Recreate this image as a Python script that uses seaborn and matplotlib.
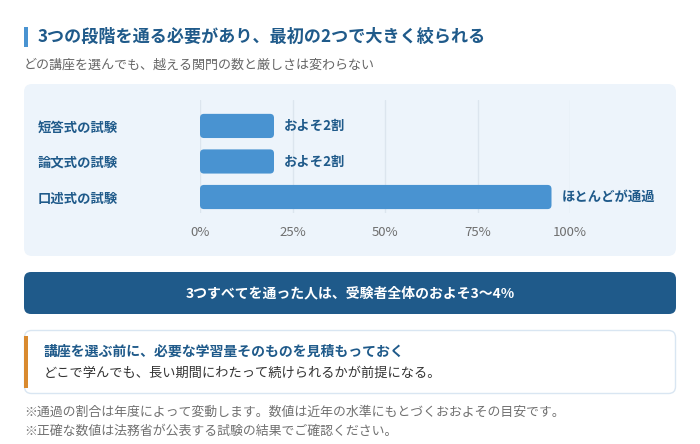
import matplotlib
matplotlib.use("Agg")
import matplotlib.pyplot as plt
import seaborn as sns
import pandas as pd
from matplotlib.patches import FancyBboxPatch, Rectangle

# Data
categories = ["短答式の試験", "論文式の試験", "口述式の試験"]
pass_rates = [20, 20, 95]
value_labels = ["およそ2割", "およそ2割", "ほとんどが通過"]
x_ticks = [0, 25, 50, 75, 100]
tick_labels = ["0%", "25%", "50%", "75%", "100%"]

title = "3つの段階を通る必要があり、最初の2つで大きく絞られる"
subtitle = "どの講座を選んでも、越える関門の数と厳しさは変わらない"
banner = "3つすべてを通った人は、受験者全体のおよそ3〜4%"
note_head = "講座を選ぶ前に、必要な学習量そのものを見積もっておく"
note_body = "どこで学んでも、長い期間にわたって続けられるかが前提になる。"
footnotes = ["※通過の割合は年度によって変動します。数値は近年の水準にもとづくおおよその目安です。",
             "※正確な数値は法務省が公表する試験の結果でご確認ください。"]

df = pd.DataFrame({"試験": categories, "通過率": pass_rates})

sns.set_theme(style="white")
plt.rcParams['font.family'] = ['Noto Sans CJK JP', 'DejaVu Sans']

NAVY = "#1f5a8a"
BAR = "#4993d1"
PANEL = "#edf4fb"
GRAY = "#6f6f6f"

W, H = 700, 444
fig = plt.figure(figsize=(7, 4.44), dpi=100)
fig.patch.set_facecolor("white")


def fy(y):
    # pixel from top -> display y
    return H - y


def box(x0, y0, x1, y1, color, r=7, ec="none", lw=0):
    p = FancyBboxPatch((x0, fy(y1)), x1 - x0, y1 - y0,
                       boxstyle=f"round,pad=0,rounding_size={r}",
                       fc=color, ec=ec, lw=lw, transform=None, zorder=-1)
    fig.patches.append(p)


# header
fig.patches.append(Rectangle((24, fy(47)), 4, 20, fc=BAR, ec="none", transform=None))
fig.text(38 / W, 1 - 37 / H, title, fontsize=12.3, fontweight="bold", color=NAVY, va="center")
fig.text(24 / W, 1 - 65 / H, subtitle, fontsize=9.4, color="#666666", va="center")

# chart panel
box(24, 84, 676, 256, PANEL, r=8)

ax = fig.add_axes([200 / W, 1 - 213 / H, 370 / W, 113 / H])
ax.set_facecolor("none")
sns.barplot(data=df, x="通過率", y="試験", orient="h", color=BAR, width=0.68,
            saturation=1, ax=ax, zorder=3)
ax.set_xlim(0, 100)
ax.set_ylim(2.45, -0.73)

# rounded bars
fig.canvas.draw()
inv = ax.transData.inverted()
(dx0, dy0), (dx1, dy1) = inv.transform([(0, 0), (1, 1)])
ppx_x = abs(dx1 - dx0)
ppx_y = abs(dy1 - dy0)
for p in list(ax.patches):
    x0, y0, w, h = p.get_x(), p.get_y(), p.get_width(), p.get_height()
    rb = FancyBboxPatch((x0, y0), w, h,
                        boxstyle=f"round,pad=0,rounding_size={4 * ppx_x}",
                        mutation_aspect=ppx_y / ppx_x,
                        fc=BAR, ec="none", zorder=3)
    p.remove()
    ax.add_patch(rb)

for i, (v, lab) in enumerate(zip(pass_rates, value_labels)):
    ax.text(v + 10 * ppx_x, i, lab, va="center", ha="left", fontsize=9.6,
            fontweight="bold", color=NAVY, clip_on=False)

ax.set_xticks(x_ticks)
ax.set_xticklabels(tick_labels)
ax.grid(axis="x", color="#dce5ee", linewidth=1, zorder=0)
for s in ax.spines.values():
    s.set_visible(False)
ax.set_xlabel("")
ax.set_ylabel("")
ax.tick_params(axis="x", length=0, pad=9, labelsize=9.5, labelcolor=GRAY)
ax.tick_params(axis="y", length=0, pad=(200 - 38) * 0.72, labelsize=9.6, labelcolor=NAVY)
for t in ax.get_yticklabels():
    t.set_ha("left")
    t.set_fontweight("bold")

# banner
box(24, 272, 676, 314, "#1f5a8a", r=7)
fig.text(350 / W, 1 - 293 / H, banner, fontsize=10, fontweight="bold", color="white",
         ha="center", va="center")

# note box
box(24.5, 330.5, 675.5, 393.5, "white", r=7, ec="#d9e6f2", lw=1)
fig.patches.append(Rectangle((24, fy(388)), 4, 52, fc="#d98a2f", ec="none", transform=None))
fig.text(44 / W, 1 - 352 / H, note_head, fontsize=10, fontweight="bold", color=NAVY, va="center")
fig.text(44 / W, 1 - 373 / H, note_body, fontsize=9.5, color="#333333", va="center")

# footnotes
fig.text(24 / W, 1 - 412 / H, footnotes[0], fontsize=9.3, color="#707070", va="center")
fig.text(24 / W, 1 - 431 / H, footnotes[1], fontsize=9.3, color="#707070", va="center")

fig.savefig("out.png", dpi=100, facecolor="white")
